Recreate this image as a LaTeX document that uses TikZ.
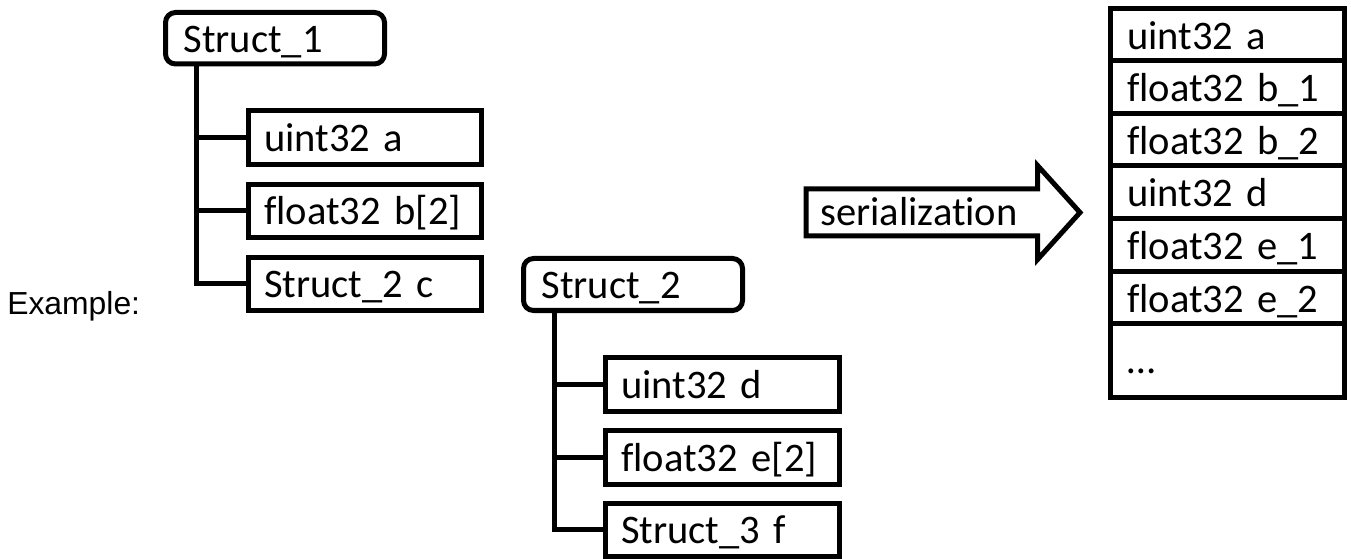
\documentclass[tikz,border=0pt]{standalone}
\usepackage{fontspec}
\setmainfont{Carlito}[Ligatures=NoCommon]
\newfontfamily\arialf{Liberation Sans}
\newdimen\pxu \pxu=0.75pt
\begin{document}
\begin{tikzpicture}[x=0.75pt,y=-0.75pt,
  lw/.style={line width=5\pxu},
  base/.style={draw, lw, outer sep=0pt, inner ysep=0pt, anchor=north west, align=left,
    font=\fontsize{30.4}{36}\selectfont},
  headbox/.style={base, rounded corners=7.5pt, minimum width=164.25pt,
    inner xsep=13.5pt, text width=137.25pt, text height=27pt, text depth=6pt},
  fieldbox/.style={base, minimum width=174.375pt,
    inner xsep=11.8pt, text width=150.775pt, text height=27pt, text depth=6pt},
  fieldboxw/.style={fieldbox, minimum width=175.5pt, text width=151.9pt},
  rowbox/.style={base, minimum width=175.5pt, minimum height=39.45pt,
    inner xsep=12.375pt, text width=150.75pt, text height=28.05pt, text depth=6pt},
  lastrow/.style={rowbox, minimum height=55.5pt, text height=24.3pt},
  conn/.style={lw}
]
\useasboundingbox (0,0) rectangle (1351,559);

% Example label
\node[anchor=base west, inner sep=0pt, font=\arialf\fontsize{23.9}{28}\selectfont] (ex) at (7,315) {Example:};

% Struct_1 tree
\node[headbox, minimum height=38.625pt] (s1) at (165.5,12.5) {Struct\_1};
\node[fieldbox, minimum height=40.5pt] (a) at (248.5,110.5) {uint32 a};
\node[fieldbox, minimum height=39.75pt] (b) at (248.5,184.5) {float32 b[2]};
\node[fieldbox, minimum height=39.75pt] (c) at (248.5,257.5) {Struct\_2 c};
\draw[conn] ([xshift=31\pxu]s1.south west) |- (a.west);
\draw[conn] ([xshift=31\pxu]s1.south west) |- (b.west);
\draw[conn] ([xshift=31\pxu]s1.south west) |- (c.west);

% Struct_2 tree
\node[headbox, minimum height=39pt] (s2) at (523.5,258.5) {Struct\_2};
\node[fieldboxw, minimum height=40.5pt] (d) at (605.5,357.5) {uint32 d};
\node[fieldboxw, minimum height=40.875pt] (e) at (605.5,430) {float32 e[2]};
\node[fieldboxw, minimum height=40.125pt] (f) at (605.5,503) {Struct\_3 f};
\draw[conn] ([xshift=30.5\pxu]s2.south west) |- (d.west);
\draw[conn] ([xshift=30.5\pxu]s2.south west) |- (e.west);
\draw[conn] ([xshift=30.5\pxu]s2.south west) |- (f.west);

% serialization arrow
\coordinate (p1) at (806,189);
\coordinate (p2) at (1037.5,189);
\coordinate (p3) at (1037.5,165.5);
\coordinate (p4) at (1080,212.5);
\coordinate (p5) at (1037.5,259.5);
\coordinate (p6) at (1037.5,236);
\coordinate (p7) at (806,236);
\draw[lw, line join=miter] (p1) -- (p2) -- (p3) -- (p4) -- (p5) -- (p6) -- (p7) -- cycle;
\node[anchor=base west, inner sep=0pt, font=\fontsize{30.4}{36}\selectfont] (ser) at (820,226) {serialization};

% serialized stack
\node[rowbox] (r1) at (1110.5,8.2) {uint32 a};
\node[rowbox] (r2) at (r1.south west) {float32 b\_1};
\node[rowbox] (r3) at (r2.south west) {float32 b\_2};
\node[rowbox] (r4) at (r3.south west) {uint32 d};
\node[rowbox] (r5) at (r4.south west) {float32 e\_1};
\node[rowbox] (r6) at (r5.south west) {float32 e\_2};
\node[lastrow] (r7) at (r6.south west) {…};
\end{tikzpicture}
\end{document}
